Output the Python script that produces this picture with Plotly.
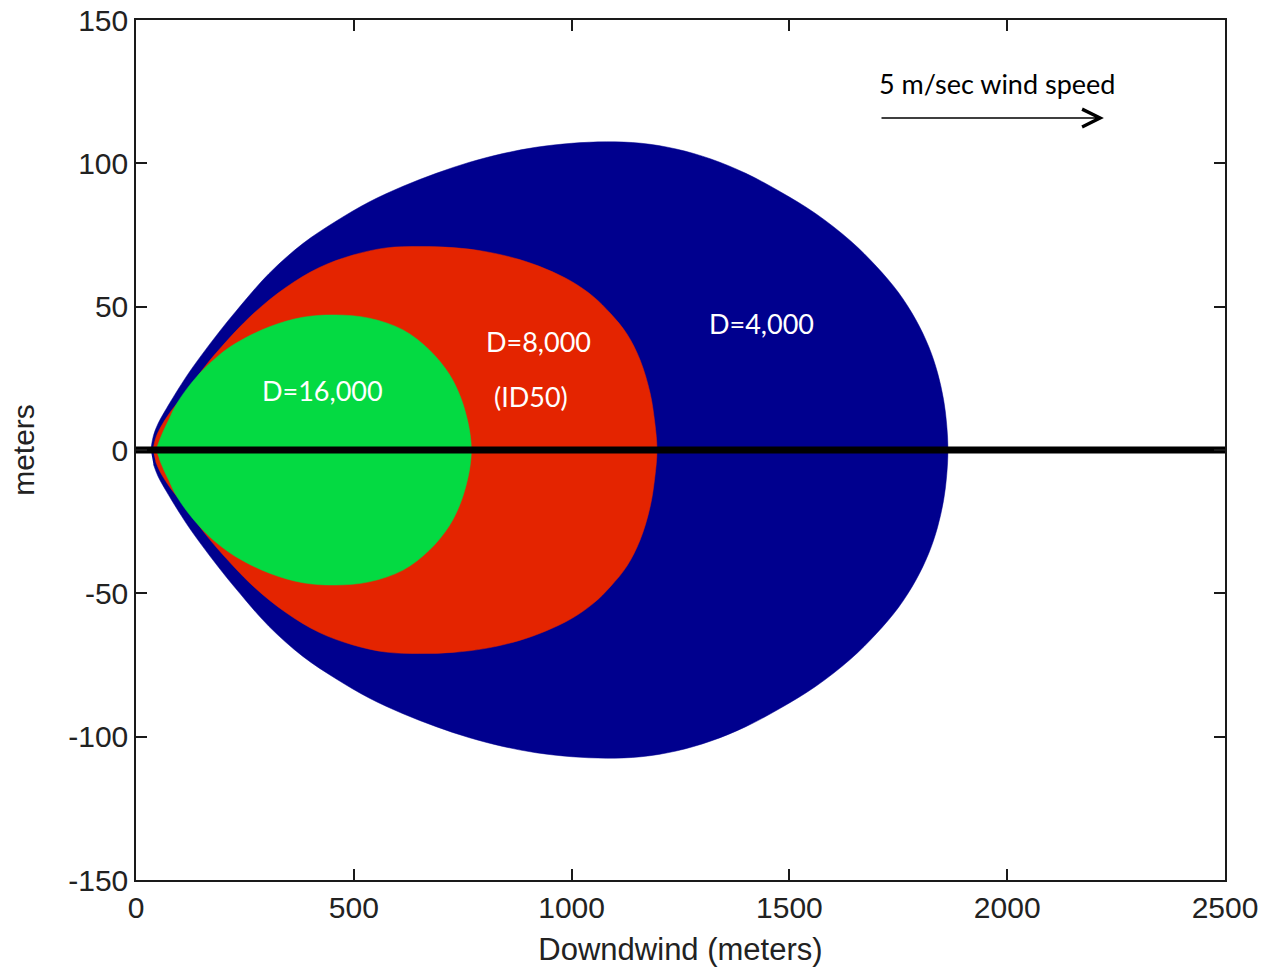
import plotly.graph_objects as go

# ── THEME ─────────────────────────────
THEME = {
    "blue":  "#00008E",
    "red":   "#E42400",
    "green": "#04DA42",
    "axis":  "#1a1a1a",
    "ticks": "#222222",
    "text":  "#ffffff",
}
TICK_FONT = "Liberation Sans, Arial, sans-serif"
NOTE_FONT = "Lato, Open Sans, sans-serif"

# ── DATA: dose isopleths, upper half (plume is symmetric about y=0) ──
blue_x = [34, 40, 50, 70, 115, 150, 190, 230, 305, 383, 459, 535, 613, 689,
          764, 842, 918, 1000, 1080, 1160, 1240, 1320, 1400, 1480, 1560, 1640,
          1700, 1750, 1790, 1820, 1840, 1854, 1861, 1864]
blue_y = [0, 5, 9, 14.5, 25.5, 33, 41, 48.5, 61.5, 72, 79.8, 86.5, 92, 96.5,
          100.3, 103.4, 105.6, 107, 107.5, 107, 105, 101.5, 96.5, 90, 82.5,
          73, 64, 55, 45.5, 36, 27, 17.5, 9, 0]

red_x = [39, 45, 55, 80, 115, 150, 190, 269, 344, 420, 498, 574, 650, 728,
         803, 879, 940, 1000, 1050, 1090, 1127, 1157, 1180, 1191, 1196]
red_y = [0, 4, 7.5, 13.5, 20, 27.5, 34.9, 47.5, 56.7, 63.6, 68.0, 70.5, 71,
         70.6, 69.2, 66.5, 63.2, 58.8, 53.5, 47.5, 40.5, 31.5, 20, 9.5, 0]

green_x = [46, 53, 64, 76, 92, 120, 154, 190, 230, 305, 383, 459, 535, 613,
           673, 719, 745, 760, 767, 770]
green_y = [0, 3, 7, 10.8, 15.8, 22, 28, 33, 37.3, 42.9, 46.3, 47.1, 46.0,
           41.9, 35, 26.5, 18.5, 11, 5.5, 0]

centerline_x = [0, 2500]
centerline_y = [0, 0]

label_text = ["D=16,000", "D=8,000", "(ID50)", "D=4,000"]
label_x = [427, 925, 907, 1437]
label_y = [20.9, 38.0, 18.8, 44.0]

wind_text = "5 m/sec wind speed"
wind_text_x = 1977
wind_text_y = 127.7
wind_arrow_x = [1708, 2222]
wind_arrow_y = [115.8, 115.8]

x_ticks = [0, 500, 1000, 1500, 2000, 2500]
y_ticks = [-150, -100, -50, 0, 50, 100, 150]


def outline(xs, ys):
    """Close an upper-half contour with its mirror image below y=0"""
    return xs + xs[-2:0:-1], ys + [-v for v in ys[-2:0:-1]]


fig = go.Figure()

for xs, ys, color, name in [(blue_x, blue_y, THEME["blue"], "D=4,000"),
                            (red_x, red_y, THEME["red"], "D=8,000"),
                            (green_x, green_y, THEME["green"], "D=16,000")]:
    ox, oy = outline(xs, ys)
    fig.add_trace(go.Scatter(
        x=ox, y=oy, mode="lines", fill="toself", fillcolor=color,
        line=dict(color=color, width=0.5, shape="spline", smoothing=1),
        name=name, hoverinfo="skip"
    ))

fig.add_trace(go.Scatter(
    x=centerline_x, y=centerline_y, mode="lines",
    line=dict(color="#000000", width=7), hoverinfo="skip"
))

for t, x, y in zip(label_text, label_x, label_y):
    fig.add_annotation(x=x, y=y, text=t, showarrow=False,
                       font=dict(family=NOTE_FONT, size=27, color=THEME["text"]))

fig.add_annotation(x=wind_text_x, y=wind_text_y, text=wind_text,
                   showarrow=False,
                   font=dict(family=NOTE_FONT, size=27, color="#000000"))
fig.add_annotation(x=wind_arrow_x[1], y=wind_arrow_y[1],
                   ax=wind_arrow_x[0], ay=wind_arrow_y[0],
                   axref="x", ayref="y", text="", showarrow=True,
                   arrowhead=5, arrowsize=2.2, arrowwidth=1.6,
                   arrowcolor="#000000", standoff=0)

axis_common = dict(
    showgrid=False, zeroline=False, showline=True, linecolor=THEME["axis"],
    linewidth=1.5, mirror="ticks", ticks="inside", ticklen=11, tickwidth=1.5,
    tickcolor=THEME["axis"], automargin=False, ticklabeloverflow="allow",
    tickfont=dict(family=TICK_FONT, size=30, color=THEME["ticks"]),
)

fig.update_layout(
    width=1265, height=971,
    plot_bgcolor="#ffffff", paper_bgcolor="#ffffff",
    showlegend=False,
    margin=dict(l=136, r=40, t=20, b=91),
    xaxis=dict(range=[0, 2500], tickvals=x_ticks,
               ticktext=[str(v) for v in x_ticks],
               title=dict(text="Downdwind (meters)", standoff=16,
                          font=dict(family=TICK_FONT, size=31,
                                    color=THEME["ticks"])),
               **axis_common),
    yaxis=dict(range=[-150, 150], tickvals=y_ticks,
               ticktext=[str(v) for v in y_ticks],
               title=dict(text="meters", standoff=25,
                          font=dict(family=TICK_FONT, size=30,
                                    color=THEME["ticks"])),
               **axis_common),
)

# drop the default 8px page margin so the figure fills the window
fig.write_html("out.html", config={"displayModeBar": False},
               post_script="document.body.style.margin='0';")
